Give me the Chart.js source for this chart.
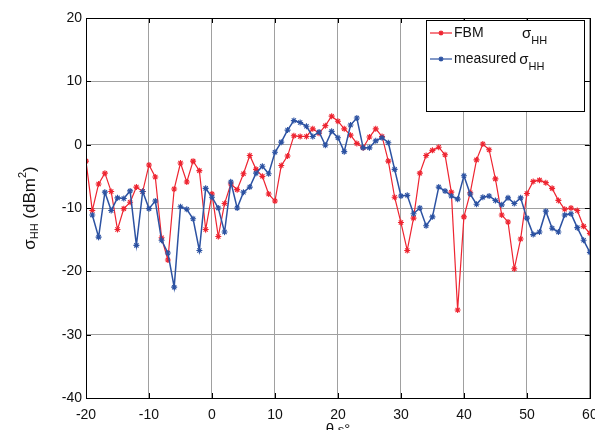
<!DOCTYPE html>
<html>
<head>
<meta charset="utf-8">
<script src="https://cdn.jsdelivr.net/npm/chart.js@4.4.1/dist/chart.umd.min.js"></script>
<style>
html, body { margin: 0; padding: 0; background: #fff; }
</style>
</head>
<body>
<canvas id="chart" width="595" height="430"></canvas>
<script>
// scattering angle (deg)
const angles = [
  -20, -19, -18, -17, -16, -15, -14, -13, -12, -11, -10, -9, -8, -7, -6, -5, -4, -3, -2, -1,
  0, 1, 2, 3, 4, 5, 6, 7, 8, 9, 10, 11, 12, 13, 14, 15, 16, 17, 18, 19,
  20, 21, 22, 23, 24, 25, 26, 27, 28, 29, 30, 31, 32, 33, 34, 35, 36, 37, 38, 39,
  40, 41, 42, 43, 44, 45, 46, 47, 48, 49, 50, 51, 52, 53, 54, 55, 56, 57, 58, 59, 60
];

// FBM sigma_HH (dBm^2)
const fbmValues = [
  -2.6, -10.4, -6.2, -4.5, -7.4, -13.4, -10.1, -9.1, -6.7, -7.4, -3.2, -5.1, -14.7, -18.2, -7.0, -2.9, -5.9, -2.6, -4.1, -13.4,
  -7.8, -14.5, -9.3, -6.2, -7.1, -4.6, -1.7, -3.9, -5.0, -7.8, -8.9, -3.3, -1.8, 1.4, 1.3, 1.3, 2.5, 1.8, 3.0, 4.5,
  3.7, 2.5, 1.5, 0.2, -0.5, 1.2, 2.5, 1.3, -2.6, -8.3, -12.3, -16.7, -11.6, -4.5, -1.7, -0.9, -0.4, -1.6, -7.5, -26.1,
  -11.4, -7.6, -2.4, 0.1, -0.8, -5.4, -11.1, -12.2, -19.6, -14.9, -7.7, -5.8, -5.6, -6.0, -6.9, -8.8, -10.2, -10.0, -10.4, -12.9, -14.0
];

// measured sigma_HH (dBm^2), no sample at -20
const measuredValues = [
  null, -11.1, -14.6, -7.5, -10.4, -8.4, -8.5, -7.3, -15.9, -7.4, -10.1, -8.9, -15.1, -17.1, -22.5, -9.8, -10.2, -11.7, -16.7, -6.9,
  -8.3, -10.0, -13.8, -5.9, -10.0, -7.5, -6.7, -4.5, -3.4, -4.6, -1.2, 0.4, 2.3, 3.8, 3.5, 2.9, 1.3, 2.0, -0.1, 2.1,
  1.1, -1.1, 3.1, 4.2, -0.5, -0.5, 0.6, 1.1, 0.3, -3.9, -8.1, -8.0, -10.9, -10.0, -12.8, -11.4, -6.7, -7.3, -8.1, -8.6,
  -4.9, -7.8, -9.4, -8.3, -8.1, -8.8, -9.5, -8.4, -9.3, -8.4, -11.6, -14.2, -13.8, -10.5, -13.2, -13.8, -11.1, -10.9, -13.1, -15.1, -17.0
];

const xTicks = [-20, -10, 0, 10, 20, 30, 40, 50, 60];
const yTicks = [-40, -30, -20, -10, 0, 10, 20];

const RED = 'rgb(238,36,48)';
const BLUE = 'rgb(44,82,162)';
const FONT = '"Liberation Sans", Arial, sans-serif';

const toPoints = vals => angles.map((a, i) => ({ x: a, y: vals[i] }));

// draws a MATLAB-like '*' marker
function drawStar(ctx, x, y, r, color) {
    ctx.save();
    ctx.strokeStyle = color;
    ctx.lineWidth = 1.2;
    ctx.beginPath();
    for (let k = 0; k < 4; k++) {
        const a = k * Math.PI / 4;
        ctx.moveTo(x - r * Math.cos(a), y - r * Math.sin(a));
        ctx.lineTo(x + r * Math.cos(a), y + r * Math.sin(a));
    }
    ctx.stroke();
    ctx.restore();
}

// text with sub/superscript pieces: [text, size, dy]
function drawRich(ctx, parts, x, y) {
    let cx = x;
    parts.forEach(([t, size, dy]) => {
        ctx.font = size + 'px ' + FONT;
        ctx.fillText(t, cx, y + dy);
        cx += ctx.measureText(t).width;
    });
    return cx;
}
function richWidth(ctx, parts) {
    let w = 0;
    parts.forEach(([t, size]) => { ctx.font = size + 'px ' + FONT; w += ctx.measureText(t).width; });
    return w;
}

const decorPlugin = {
    id: 'decor',
    afterDraw(chart) {
        const { ctx, chartArea: a, scales } = chart;
        ctx.save();
        // box + inward ticks
        ctx.strokeStyle = '#000';
        ctx.lineWidth = 1;
        ctx.strokeRect(Math.round(a.left) + 0.5, Math.round(a.top) + 0.5, Math.round(a.right - a.left), Math.round(a.bottom - a.top));
        ctx.beginPath();
        xTicks.forEach(v => {
            const px = Math.round(scales.x.getPixelForValue(v)) + 0.5;
            ctx.moveTo(px, a.bottom); ctx.lineTo(px, a.bottom - 5);
            ctx.moveTo(px, a.top); ctx.lineTo(px, a.top + 5);
        });
        yTicks.forEach(v => {
            const py = Math.round(scales.y.getPixelForValue(v)) + 0.5;
            ctx.moveTo(a.left, py); ctx.lineTo(a.left + 5, py);
            ctx.moveTo(a.right, py); ctx.lineTo(a.right - 5, py);
        });
        ctx.stroke();

        // legend
        const lx = 426, ly = 20, lw = 158, lh = 91;
        ctx.fillStyle = '#fff';
        ctx.fillRect(lx, ly, lw, lh);
        ctx.strokeStyle = '#000';
        ctx.strokeRect(lx + 0.5, ly + 0.5, lw, lh);
        const entries = [
            { color: RED, y: 33, label: 'FBM', sx: 522 },
            { color: BLUE, y: 59, label: 'measured', sx: null }
        ];
        entries.forEach(e => {
            ctx.strokeStyle = e.color;
            ctx.lineWidth = 1.2;
            ctx.beginPath();
            ctx.moveTo(430, e.y); ctx.lineTo(452, e.y);
            ctx.stroke();
            drawStar(ctx, 441, e.y, 2.5, e.color);
            ctx.fillStyle = '#111';
            ctx.textBaseline = 'middle';
            ctx.textAlign = 'left';
            ctx.font = '14px ' + FONT;
            ctx.fillText(e.label, 454, e.y);
            const sx = e.sx !== null ? e.sx : 454 + ctx.measureText(e.label).width + 3;
            drawRich(ctx, [['σ', 15, 0], ['HH', 11, 7]], sx, e.y + 1);
        });

        // y title
        ctx.fillStyle = '#111';
        ctx.textBaseline = 'middle';
        ctx.textAlign = 'left';
        const yParts = [['σ', 17, 0], ['HH', 11, 5], [' (dBm', 17, 0], ['2', 11, -7], [')', 17, 0]];
        ctx.translate(30, (a.top + a.bottom) / 2);
        ctx.rotate(-Math.PI / 2);
        drawRich(ctx, yParts, -richWidth(ctx, yParts) / 2, 0);
        ctx.setTransform(1, 0, 0, 1, 0, 0);

        // x title (cut off by the bottom edge, as in the figure)
        const xParts = [['θ', 15, 0], [' s', 13, 2], ['°', 15, 0]];
        ctx.textBaseline = 'top';
        drawRich(ctx, xParts, (a.left + a.right) / 2 - richWidth(ctx, xParts) / 2, 422);
        ctx.restore();
    }
};

new Chart(document.getElementById('chart'), {
    type: 'line',
    data: {
        datasets: [
            {
                label: 'FBM σHH',
                data: toPoints(fbmValues),
                borderColor: RED,
                borderWidth: 1.2,
                pointStyle: 'star',
                pointRadius: 3,
                pointBorderWidth: 1.1,
                pointBorderColor: RED,
                pointBackgroundColor: RED,
                tension: 0,
                order: 2
            },
            {
                label: 'measured σHH',
                data: toPoints(measuredValues),
                borderColor: BLUE,
                borderWidth: 1.5,
                pointStyle: 'star',
                pointRadius: 3,
                pointBorderWidth: 1.1,
                pointBorderColor: BLUE,
                pointBackgroundColor: BLUE,
                tension: 0,
                order: 1
            }
        ]
    },
    options: {
        responsive: false,
        animation: false,
        events: [],
        layout: { padding: { top: 18, right: 5, left: 0, bottom: 0 } },
        plugins: { legend: { display: false }, tooltip: { enabled: false } },
        scales: {
            x: {
                type: 'linear',
                min: -20,
                max: 60,
                afterBuildTicks: s => { s.ticks = xTicks.map(v => ({ value: v })); },
                afterFit: s => { s.height = 32; s.paddingLeft = 0; s.paddingRight = 0; },
                grid: { color: '#a0a0a0', drawTicks: false },
                border: { color: '#000' },
                ticks: { color: '#111', padding: 9, maxRotation: 0, font: { family: FONT, size: 14 } }
            },
            y: {
                min: -40,
                max: 20,
                afterBuildTicks: s => { s.ticks = yTicks.map(v => ({ value: v })); },
                afterFit: s => { s.width = 86; s.paddingTop = 0; s.paddingBottom = 0; },
                grid: { color: '#a0a0a0', drawTicks: false },
                border: { color: '#000' },
                ticks: { color: '#111', padding: 4, font: { family: FONT, size: 14 } }
            }
        }
    },
    plugins: [decorPlugin]
});
</script>
</body>
</html>
